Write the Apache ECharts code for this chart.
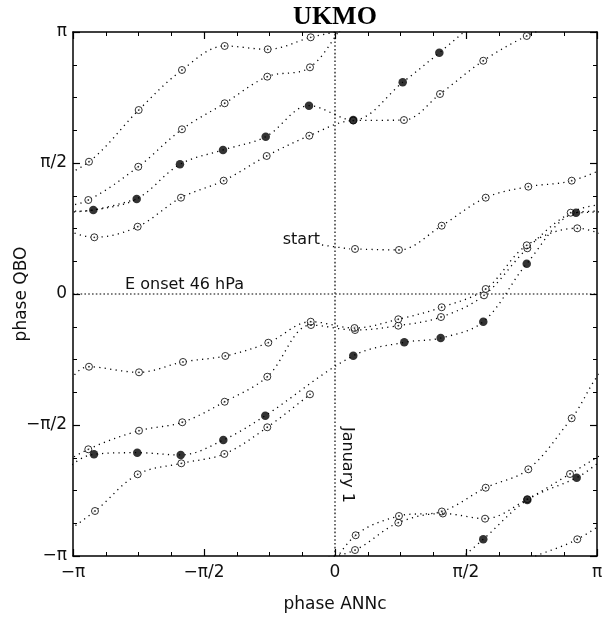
<!DOCTYPE html>
<html>
<head>
<meta charset="utf-8">
<script src="https://cdn.jsdelivr.net/npm/echarts@6/dist/echarts.min.js"></script>
<style>
html, body { margin: 0; padding: 0; background: #fff; }
#chart { width: 613px; height: 622px; }
</style>
</head>
<body>
<div id="chart"></div>
<script>
const PI = Math.PI;

// tick labels at multiples of pi/2
const tickLabels = ['−π', '−π/2', '0', 'π/2', 'π'];

// monthly trajectory (open circles): phase ANNc, phase QBO (radians, wrapped)
const openX = [
  0.24, 0.767, 1.279, 1.807, 2.318, 2.838, -2.95, -2.354, -1.835, -1.323, -0.807, -0.291,
  0.24, 0.759, 1.293, 1.799, 2.306, 2.818, -2.958, -2.35, -1.831, -1.323, -0.812, -0.288,
  0.24, 0.759, 1.271, 1.787, 2.306, 2.826, -2.958, -2.359, -1.835, -1.323, -0.812, -0.3,
  0.248, 0.767, 1.281, 1.807, 2.318, 2.838, -2.95, -2.35, -1.823, -1.315, -0.8, -0.291,
  0.234, 0.759, 1.279, 1.807, 2.299, 2.905, -2.886, -2.366, -1.847, -1.335, -0.819, -0.308,
  0.219, 0.827, 1.259, 1.778, 2.299, 2.905, -2.878, -2.366, -1.843, -1.327, -0.812, -0.3
];
const openY = [
  0.54, 0.528, 0.819, 1.155, 1.287, 1.359, 1.586, 2.206, 2.686, 2.974, 2.934, 3.078,
  -3.07, -2.742, -2.632, -2.694, -2.46, -2.158, -1.862, -1.639, -1.538, -1.292, -0.992, -0.372,
  -0.432, -0.38, -0.276, -0.016, 0.548, 0.975, 1.127, 1.526, 1.975, 2.287, 2.606, 2.718,
  -2.893, -2.662, -2.608, -2.323, -2.102, -1.49, -0.872, -0.939, -0.815, -0.743, -0.584, -0.332,
  -0.408, -0.303, -0.159, 0.06, 0.584, 0.788, 0.68, 0.807, 1.155, 1.359, 1.655, 1.898,
  2.08, 2.086, 2.398, 2.797, 3.094, -2.941, -2.602, -2.162, -2.03, -1.918, -1.598, -1.203
];

// composite cycle (filled circles), closed loop
const fillX = [
  -2.898, -2.378, -1.859, -1.343, -0.831, -0.312, 0.219, 0.812, 1.251, 1.778, 2.306, 2.898,
  -2.89, -2.371, -1.85, -1.339, -0.836, 0.219, 0.831, 1.267, 1.778, 2.299, 2.89
];
const fillY = [
  1.007, 1.139, 1.555, 1.727, 1.886, 2.258, 2.086, 2.538, 2.893, -2.941, -2.47, -2.203,
  -1.922, -1.903, -1.93, -1.751, -1.459, -0.74, -0.579, -0.528, -0.332, 0.363, 0.975
];

// undo the 2pi wrapping so the path is continuous
function unwrap(xs, ys) {
  const pts = [];
  let ox = 0, oy = 0;
  for (let i = 0; i < xs.length; i++) {
    if (i > 0) {
      const dx = xs[i] + ox - pts[i - 1][0];
      const dy = ys[i] + oy - pts[i - 1][1];
      if (dx < -PI) ox += 2 * PI; else if (dx > PI) ox -= 2 * PI;
      if (dy < -PI) oy += 2 * PI; else if (dy > PI) oy -= 2 * PI;
    }
    pts.push([xs[i] + ox, ys[i] + oy]);
  }
  return pts;
}

// copies of a continuous path shifted by multiples of 2pi, clipped by the grid
function tiles(pts) {
  const out = [];
  const xs = pts.map(p => p[0]), ys = pts.map(p => p[1]);
  const kx0 = Math.floor((Math.min(...xs) - PI) / (2 * PI)) - 1;
  const kx1 = Math.ceil((Math.max(...xs) + PI) / (2 * PI)) + 1;
  const ky0 = Math.floor((Math.min(...ys) - PI) / (2 * PI)) - 1;
  const ky1 = Math.ceil((Math.max(...ys) + PI) / (2 * PI)) + 1;
  for (let kx = kx0; kx <= kx1; kx++) {
    for (let ky = ky0; ky <= ky1; ky++) {
      const d = pts.map(p => [p[0] - 2 * PI * kx, p[1] - 2 * PI * ky]);
      if (d.some(p => Math.abs(p[0]) < PI + 1 && Math.abs(p[1]) < PI + 1)) out.push(d);
    }
  }
  return out;
}

const openPath = unwrap(openX, openY);
const n = fillX.length;
const fillPath = unwrap(
  [fillX[n - 1]].concat(fillX, fillX.slice(0, 2)),
  [fillY[n - 1]].concat(fillY, fillY.slice(0, 2))
);

const dotted = { color: '#000', width: 1.3, type: [1.2, 4.3] };
const series = [];
tiles(openPath).concat(tiles(fillPath)).forEach(d => {
  series.push({
    type: 'line', data: d, smooth: 0.35, showSymbol: false, symbol: 'none',
    lineStyle: dotted, z: 2, silent: true, clip: true
  });
});

// reference lines at zero
series.push({
  type: 'line', data: [[-PI, 0], [PI, 0]], symbol: 'none', z: 2, silent: true,
  lineStyle: { color: '#000', width: 1.2, type: [1.6, 2.2] }
});
series.push({
  type: 'line', data: [[0, -PI], [0, PI]], symbol: 'none', z: 2, silent: true,
  lineStyle: { color: '#000', width: 1.2, type: [1.6, 2.2] }
});

const openPts = openX.map((x, i) => [x, openY[i]]);
const fillPts = fillX.map((x, i) => [x, fillY[i]]);
series.push({
  type: 'scatter', data: openPts, symbol: 'circle', symbolSize: 7, z: 3, silent: true,
  itemStyle: { color: '#fff', borderColor: '#000', borderWidth: 1 }
});
series.push({
  type: 'scatter', data: openPts, symbol: 'circle', symbolSize: 1.8, z: 4, silent: true,
  itemStyle: { color: '#000' }
});
series.push({
  type: 'scatter', data: fillPts, symbol: 'circle', symbolSize: 8.5, z: 5, silent: true,
  itemStyle: { color: '#000' }
});

const font = 'DejaVu Sans';
function labelFmt(v) {
  return tickLabels[Math.round(v / (PI / 2)) + 2];
}
function makeAxis(position, showLabel, name, extra) {
  return Object.assign({
    type: 'value', position: position, min: -PI, max: PI, interval: PI / 2,
    axisLine: { onZero: false, lineStyle: { color: '#000', width: 1.5 } },
    axisTick: { inside: true, length: 7, lineStyle: { color: '#000', width: 1.2 } },
    minorTick: { show: true, splitNumber: 4, length: 4, lineStyle: { color: '#000', width: 1 } },
    splitLine: { show: false },
    axisLabel: {
      show: showLabel, formatter: labelFmt, fontSize: 17, fontFamily: font, color: '#111'
    },
    name: name,
    nameLocation: 'middle',
    nameMoveOverlap: false,
    nameTextStyle: { fontSize: 17, fontFamily: font, color: '#111' }
  }, extra);
}

const chart = echarts.init(document.getElementById('chart'));
chart.setOption({
  animation: false,
  backgroundColor: '#fff',
  grid: { left: 73, right: 16, top: 32, bottom: 66 },
  xAxis: [
    makeAxis('bottom', true, 'phase ANNc', { nameGap: 40 }),
    makeAxis('top', false, '', {})
  ],
  yAxis: [
    makeAxis('left', true, 'phase QBO', { nameGap: 43 }),
    makeAxis('right', false, '', {})
  ],
  series: series
});
chart.setOption({
  xAxis: [{ axisLabel: { margin: 8 } }, {}],
  yAxis: [{ axisLabel: { margin: 6 } }, {}]
});

// annotations
const sp = chart.convertToPixel({ gridIndex: 0 }, [openX[0], openY[0]]);
chart.setOption({
  graphic: [
    {
      type: 'text', x: 335, y: 17,
      style: { text: 'UKMO', font: 'bold 26px "Liberation Serif"', fill: '#000',
        textAlign: 'center', textVerticalAlign: 'middle', align: 'center', verticalAlign: 'middle' }
    },
    {
      type: 'text', x: 125, y: 285,
      style: { text: 'E onset 46 hPa', font: '16px "DejaVu Sans"', fill: '#111',
        textAlign: 'left', textVerticalAlign: 'middle', align: 'left', verticalAlign: 'middle' }
    },
    {
      type: 'text', x: 320, y: 240,
      style: { text: 'start', font: '16px "DejaVu Sans"', fill: '#111',
        textAlign: 'right', textVerticalAlign: 'middle', align: 'right', verticalAlign: 'middle' }
    },
    {
      type: 'polyline',
      shape: { points: [[322, 245], [sp[0] - 5, sp[1]]] },
      style: { stroke: '#000', lineWidth: 1.3, lineDash: [1.2, 4.3], fill: null }
    },
    {
      type: 'text', x: 347, y: 465, rotation: -PI / 2,
      style: { text: 'January 1', font: '16px "DejaVu Sans"', fill: '#111',
        textAlign: 'center', textVerticalAlign: 'middle', align: 'center', verticalAlign: 'middle' }
    }
  ]
});
</script>
</body>
</html>
